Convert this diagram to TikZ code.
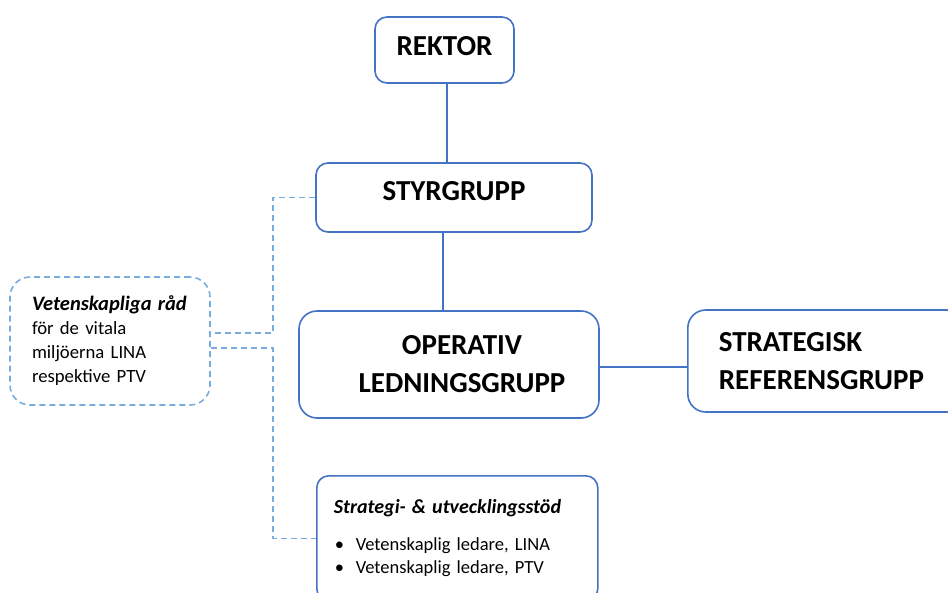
\documentclass[tikz,border=0pt]{standalone}
\usepackage{fontspec}
\setmainfont{Carlito}
\usepackage{tikz}
\usetikzlibrary{positioning}
\definecolor{orgblue}{HTML}{4472C4}
\definecolor{orgdash}{HTML}{78ACDC}

\begin{document}
\begin{tikzpicture}[x=1pt, y=-1pt,
  orgbox/.style={draw=orgblue, line width=1.6pt, rounded corners=12pt, fill=white,
                 font=\fontsize{29}{38}\selectfont\bfseries, align=center},
  dashbox/.style={draw=orgdash, line width=1.6pt, dash pattern=on 6pt off 4pt,
                  rounded corners=20pt, font=\fontsize{18.7}{24}\selectfont, align=left},
  orgline/.style={draw=orgblue, line width=1.3pt},
  dashline/.style={draw=orgdash, line width=1.6pt, dash pattern=on 6pt off 4pt}]
\useasboundingbox (0,0) rectangle (948,592);
\node[orgbox, minimum width=139pt, minimum height=66pt, text depth=8pt] (rektor)
      at (444.5,50) {REKTOR};
\node[orgbox, minimum width=276pt, minimum height=69pt, text depth=14pt] (styr)
      at (454,197.5) {STYRGRUPP};
\node[orgbox, minimum width=300pt, minimum height=107pt, rounded corners=18pt] (op)
      at (449,364.5) {\hspace*{26pt}OPERATIV\\\hspace*{26pt}LEDNINGSGRUPP};
\node[orgbox, anchor=west, text width=215pt, inner xsep=31pt, minimum height=102pt,
      rounded corners=18pt, align=left] (strat) at (687,361) {STRATEGISK\\REFERENSGRUPP};
\node[dashbox, text width=156pt, inner xsep=22pt, minimum height=128pt] (vet) at (110,341)
      {{\fontsize{20.5}{24}\selectfont\textbf{\textit{Vetenskapliga råd}}}\\för de vitala\\
       miljöerna LINA\\respektive PTV};
\node[orgbox, font=\fontsize{18.5}{23}\selectfont, align=left, anchor=north west,
      text width=247pt, inner xsep=17pt, minimum height=125pt] (stod) at (316,475)
      {{\fontsize{20}{23}\selectfont\textbf{\textit{Strategi- \& utvecklingsstöd}}}\\[14pt]
       \makebox[22pt][l]{\hspace*{1pt}\textbullet}Vetenskaplig ledare, LINA\\
       \makebox[22pt][l]{\hspace*{1pt}\textbullet}Vetenskaplig ledare, PTV};
% hierarchy
\coordinate (ja) at (273,333);
\coordinate (jb) at (273,348);
\draw[orgline] (rektor.south -| 447,0) -- (styr.north -| 447,0);
\draw[orgline] (styr.south -| 443,0) -- (op.north -| 443,0);
\draw[orgline] (op.east |- 0,367) -- (strat.west |- 0,367);
% scientific councils
\draw[dashline] (styr.west) -| (ja) -- (vet.east |- ja);
\draw[dashline] (vet.east |- jb) -- (jb) |- (stod.west);
\end{tikzpicture}
\end{document}
